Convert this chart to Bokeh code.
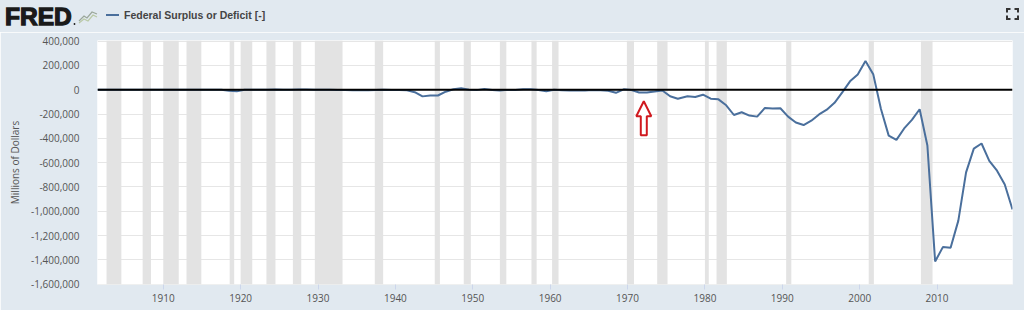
import numpy as np
from bokeh.plotting import figure
from bokeh.layouts import column
from bokeh.models import (FixedTicker, NumeralTickFormatter, BasicTickFormatter, Span,
                          BoxAnnotation, ColumnDataSource, Div)
from bokeh.core.properties import value
from bokeh.embed import file_html
from bokeh.resources import INLINE

# ---------------- data ----------------
fiscal_years = list(range(1901, 2020))
# Federal surplus (+) or deficit (-), millions of dollars
surplus = [
    63, 77, 45, -43, -23, 25, 87, -57, -89, -18,
    11, 3, 0, 0, -63, 48, -853, -9032, -13363, 291,
    509, 736, 713, 963, 717, 865, 1155, 939, 734, 738,
    -462, -2735, -2602, -3586, -2803, -4304, -2193, -89, -2846, -2920,
    -4941, -20503, -54554, -47557, -47553, -15936, 4018, 11796, 580, -3119,
    6102, -1519, -6493, -1154, -2993, 3947, 3412, -2769, -12849, 301,
    -3335, -7146, -4756, -5915, -1411, -3698, -8643, -25161, 3242, -2842,
    -23033, -23373, -14908, -6135, -53242, -73732, -53659, -59185, -40726, -73830,
    -78968, -127977, -207802, -185367, -212308, -221227, -149730, -155178, -152639, -221036,
    -269238, -290321, -255051, -203186, -163952, -107431, -21884, 69270, 125610, 236241,
    128236, -157758, -377585, -412727, -318346, -248181, -160701, -458553, -1412688, -1294373,
    -1299599, -1076573, -679775, -484602, -441960, -584651, -665446, -779137, -984388,
]
# fiscal years ended in June up to 1976, in September afterwards
fy_end_month = [6 if y <= 1976 else 9 for y in fiscal_years]

recession_start = ["1902-09", "1907-05", "1910-01", "1913-01", "1918-08", "1920-01", "1923-05",
                   "1926-10", "1929-08", "1937-05", "1945-02", "1948-11", "1953-07", "1957-08",
                   "1960-04", "1969-12", "1973-11", "1980-01", "1981-07", "1990-07", "2001-03",
                   "2007-12"]
recession_end = ["1904-08", "1908-06", "1912-01", "1914-12", "1919-03", "1921-07", "1924-07",
                 "1927-11", "1933-03", "1938-06", "1945-10", "1949-10", "1954-05", "1958-04",
                 "1961-02", "1970-11", "1975-03", "1980-07", "1982-11", "1991-03", "2001-11",
                 "2009-06"]

y_ticks = [400000, 200000, 0, -200000, -400000, -600000, -800000, -1000000,
           -1200000, -1400000, -1600000]
x_ticks = [1910, 1920, 1930, 1940, 1950, 1960, 1970, 1980, 1990, 2000, 2010]

series_name = "Federal Surplus or Deficit [-]"
y_label = "Millions of Dollars"
logo_text = "FRED"
arrow_year = 1972.1
arrow_value = -95000


def ym(s):
    y, m = s.split("-")
    return int(y) + (int(m) - 1) / 12.0


x_dates = [y + m / 12.0 for y, m in zip(fiscal_years, fy_end_month)]

# ---------------- styling ----------------
W = 1024
HEAD_H = 32
H = 310 - HEAD_H
BL, BR, BT, BB = 97, 12, 8, 26
X0, X1 = 1901.5, 2019.75
Y0, Y1 = -1602000, 405000

BG = "#e1e9f0"
TXT = "#555555"
LINE = "#4a6f9c"

# ---------------- header strip (inline SVG) ----------------
header_svg = f"""
<svg xmlns="http://www.w3.org/2000/svg" width="{W}" height="{HEAD_H}" style="display:block">
  <rect x="0" y="0" width="{W}" height="{HEAD_H}" fill="{BG}"/>
  <text x="5" y="24.5" font-family="Liberation Sans" font-weight="bold" font-size="24.5"
        fill="#1a1a1a" stroke="#1a1a1a" stroke-width="1.3" stroke-linejoin="miter">{logo_text}</text>
  <circle cx="74.5" cy="24" r="0.9" fill="#1a1a1a"/>
  <polyline points="79,21 84,16 87,18 92,12 97,14" fill="none" stroke="#9aa79a" stroke-width="1.2"/>
  <polyline points="79,23 84,19 88,21 93,15 97,17" fill="none" stroke="#b9c9a6" stroke-width="1.2"/>
  <line x1="106" y1="15" x2="119" y2="15" stroke="{LINE}" stroke-width="2"/>
  <text x="124" y="19" font-family="Open Sans" font-weight="bold" font-size="10.5"
        fill="#444444">{series_name}</text>
  <polyline points="1007,12.5 1007,9 1010.5,9" fill="none" stroke="#333" stroke-width="2"/>
  <polyline points="1014.5,9 1018,9 1018,12.5" fill="none" stroke="#333" stroke-width="2"/>
  <polyline points="1007,15.5 1007,19 1010.5,19" fill="none" stroke="#333" stroke-width="2"/>
  <polyline points="1014.5,19 1018,19 1018,15.5" fill="none" stroke="#333" stroke-width="2"/>
</svg>
"""
header = Div(text=header_svg, width=W, height=HEAD_H, margin=(0, 0, 0, 0),
             styles={"background-color": BG, "padding": "0", "overflow": "hidden"})

# ---------------- main chart ----------------
p = figure(width=W, height=H, output_backend="svg", toolbar_location=None,
           x_range=(X0, X1), y_range=(Y0, Y1),
           min_border_left=BL, min_border_right=BR, min_border_top=BT, min_border_bottom=BB)
p.border_fill_color = BG
p.background_fill_color = "white"
p.outline_line_color = None

# recession shading
for s, e in zip(recession_start, recession_end):
    p.add_layout(BoxAnnotation(left=ym(s), right=ym(e), fill_color="#e3e3e3", fill_alpha=1.0,
                               line_color=None, level="underlay"))

# grid
p.xgrid.grid_line_color = None
p.ygrid.grid_line_color = "#e6e6e6"
p.ygrid.grid_line_width = 1
p.ygrid.ticker = FixedTicker(ticks=y_ticks)

# axes
p.yaxis.ticker = FixedTicker(ticks=y_ticks)
p.yaxis.formatter = NumeralTickFormatter(format="0,0")
p.yaxis.axis_line_color = None
p.yaxis.major_tick_line_color = None
p.yaxis.minor_tick_line_color = None
p.yaxis.major_label_standoff = 12
p.yaxis.major_label_text_font = "Open Sans"
p.yaxis.major_label_text_font_size = "10px"
p.yaxis.major_label_text_color = TXT
p.yaxis.axis_label = y_label
p.yaxis.axis_label_text_font = "Open Sans"
p.yaxis.axis_label_text_font_size = "10px"
p.yaxis.axis_label_text_font_style = "normal"
p.yaxis.axis_label_text_color = TXT
p.yaxis.axis_label_standoff = 6

p.xaxis.ticker = FixedTicker(ticks=x_ticks)
p.xaxis.formatter = BasicTickFormatter(use_scientific=False)
p.xaxis.axis_line_color = None
p.xaxis.major_tick_line_color = "#ccd6eb"
p.xaxis.major_tick_in = 0
p.xaxis.major_tick_out = 5
p.xaxis.minor_tick_line_color = None
p.xaxis.major_label_standoff = 4
p.xaxis.major_label_text_font = "Open Sans"
p.xaxis.major_label_text_font_size = "10px"
p.xaxis.major_label_text_color = TXT

# series
src = ColumnDataSource(dict(x=x_dates, y=surplus))
p.line("x", "y", source=src, line_color=LINE, line_width=2)

# zero line
p.add_layout(Span(location=0, dimension="width", line_color="black", line_width=2))

# red outline arrow (shape given in screen pixels, converted through the scales)
fw, fh = W - BL - BR, H - BT - BB
sx = (X1 - X0) / fw
sy = (Y1 - Y0) / fh
shape_px = [(0, 0), (7.5, 15), (3, 15), (3, 34), (-3, 34), (-3, 15), (-7.5, 15)]
p.patch([arrow_year + dx * sx for dx, dy in shape_px],
        [arrow_value - dy * sy for dx, dy in shape_px],
        fill_color="white", line_color="#d0191f", line_width=2)

layout = column(header, p, spacing=0)
open("out.html", "w").write(file_html(layout, INLINE))
